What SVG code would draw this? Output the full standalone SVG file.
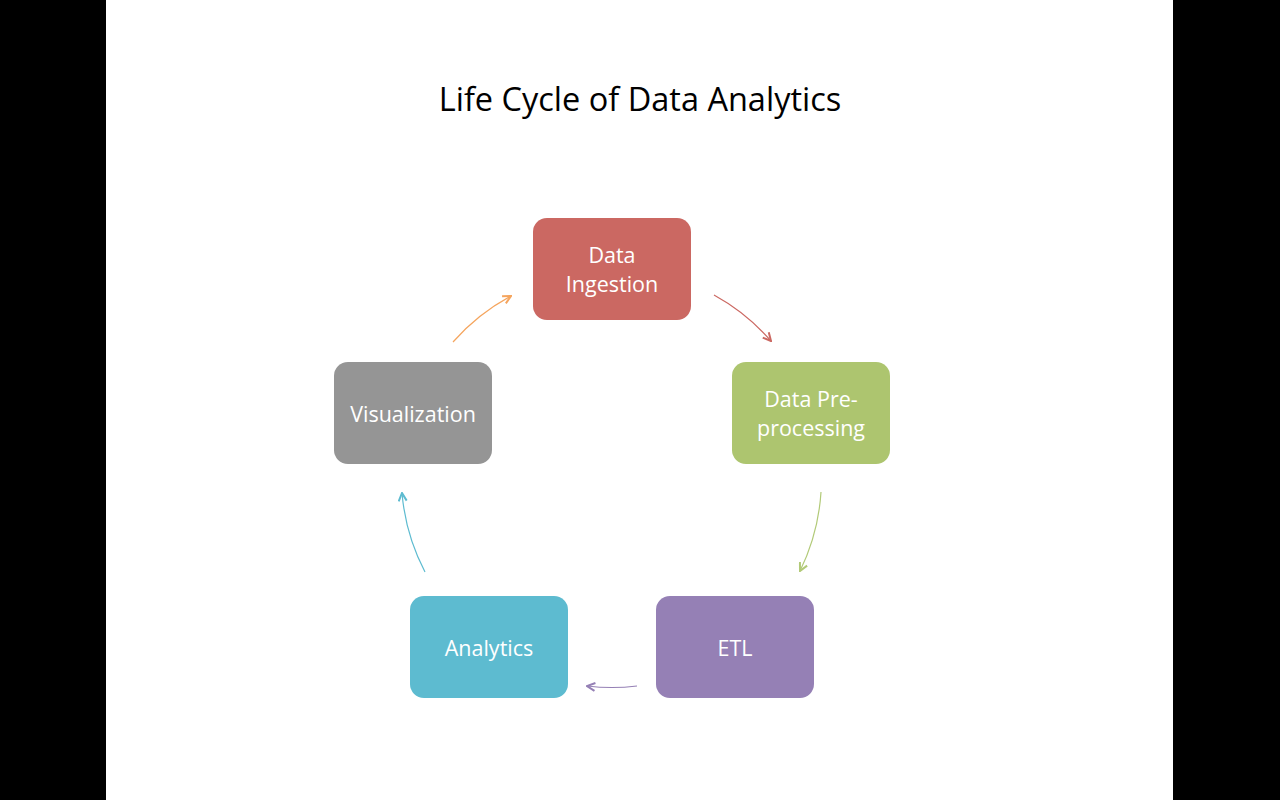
<svg xmlns="http://www.w3.org/2000/svg" width="1280" height="800" viewBox="0 0 1280 800">
<style>
.node{stroke:none}
.lbl{font-family:"Open Sans","Noto Sans",sans-serif;font-size:21.5px;fill:#ffffff;text-anchor:middle}
.title{font-family:"Open Sans","Noto Sans",sans-serif;font-size:32.5px;fill:#000000;text-anchor:middle}
.arc{fill:none;stroke-width:1.2}
</style>
<defs>
<marker id="mR" viewBox="0 0 10 10" refX="9" refY="5" markerWidth="10" markerHeight="10" markerUnits="userSpaceOnUse" orient="auto"><path d="M1,1 L9,5 L1,9" fill="none" stroke="#CB6862" stroke-width="2"/></marker>
<marker id="mG" viewBox="0 0 10 10" refX="9" refY="5" markerWidth="10" markerHeight="10" markerUnits="userSpaceOnUse" orient="auto"><path d="M1,1 L9,5 L1,9" fill="none" stroke="#B2CA78" stroke-width="2"/></marker>
<marker id="mP" viewBox="0 0 10 10" refX="9" refY="5" markerWidth="10" markerHeight="10" markerUnits="userSpaceOnUse" orient="auto"><path d="M1,1 L9,5 L1,9" fill="none" stroke="#9580B5" stroke-width="2"/></marker>
<marker id="mB" viewBox="0 0 10 10" refX="9" refY="5" markerWidth="10" markerHeight="10" markerUnits="userSpaceOnUse" orient="auto"><path d="M1,1 L9,5 L1,9" fill="none" stroke="#5DBBD0" stroke-width="2"/></marker>
<marker id="mO" viewBox="0 0 10 10" refX="9" refY="5" markerWidth="10" markerHeight="10" markerUnits="userSpaceOnUse" orient="auto"><path d="M1,1 L9,5 L1,9" fill="none" stroke="#F5A55E" stroke-width="2"/></marker>
</defs>
<rect x="0" y="0" width="1280" height="800" fill="#000000"/>
<rect x="106" y="0" width="1067" height="800" fill="#ffffff"/>
<text class="title" x="640" y="111">Life Cycle of Data Analytics</text>
<g id="connectors">
<path class="arc" stroke="#CB6862" d="M714,295 A209,209 0 0 1 771,341" marker-end="url(#mR)"/>
<path class="arc" stroke="#B2CA78" d="M821,492 A209,209 0 0 1 800,571" marker-end="url(#mG)"/>
<path class="arc" stroke="#9580B5" d="M637,686 A209,209 0 0 1 587,686" marker-end="url(#mP)"/>
<path class="arc" stroke="#5DBBD0" d="M425,572 A209,209 0 0 1 402,493" marker-end="url(#mB)"/>
<path class="arc" stroke="#F5A55E" d="M453,342 A209,209 0 0 1 511,296" marker-end="url(#mO)"/>
</g>
<g id="node-ingestion">
<rect class="node" x="533" y="218" width="158" height="102" rx="14" fill="#CB6862"/>
<text class="lbl" x="612" y="263">Data</text>
<text class="lbl" x="612" y="292">Ingestion</text>
</g>
<g id="node-preprocessing">
<rect class="node" x="732" y="362" width="158" height="102" rx="14" fill="#ADC56F"/>
<text class="lbl" x="811" y="407">Data Pre-</text>
<text class="lbl" x="811" y="436">processing</text>
</g>
<g id="node-etl">
<rect class="node" x="656" y="596" width="158" height="102" rx="14" fill="#9580B5"/>
<text class="lbl" x="735" y="656">ETL</text>
</g>
<g id="node-analytics">
<rect class="node" x="410" y="596" width="158" height="102" rx="14" fill="#5DBBD0"/>
<text class="lbl" x="489" y="656">Analytics</text>
</g>
<g id="node-visualization">
<rect class="node" x="334" y="362" width="158" height="102" rx="14" fill="#959595"/>
<text class="lbl" x="413" y="422">Visualization</text>
</g>
</svg>
